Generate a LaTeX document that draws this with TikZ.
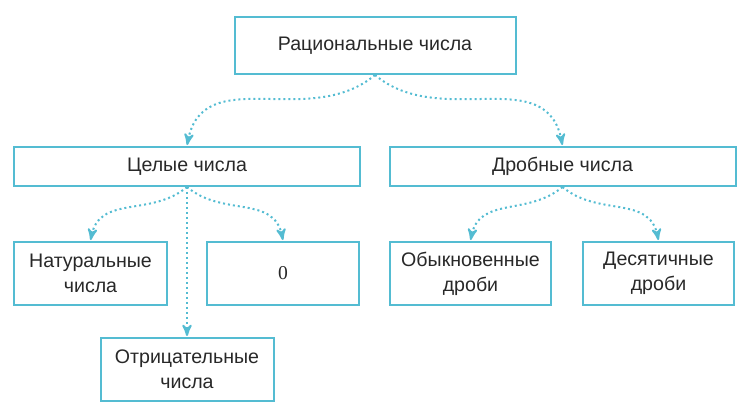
\documentclass[tikz,border=0pt]{standalone}
\usepackage{fontspec}
\setmainfont{Liberation Sans}
\newfontfamily\zerofont{Liberation Serif}
\usetikzlibrary{arrows,positioning}
\definecolor{linecol}{RGB}{84,188,210}
\definecolor{textcol}{RGB}{40,40,40}
\tikzset{
    %Define standard arrow tip
    >=stealth',
    %Define style for boxes
    numrect/.style={
           rectangle,
           draw=linecol, line width=1pt,
           inner sep=0pt,
           minimum height=31.5pt,
           font=\fontsize{9.8}{12.5}\selectfont,
           text=textcol,
           align=center},
    toprect/.style={
           numrect,
           minimum width=140.5pt,
           minimum height=28.5pt},
    midrect/.style={
           numrect,
           minimum width=173pt,
           minimum height=19.5pt},
    % Define arrow style
    dotpil/.style={
           ->,
           draw=linecol,
           line width=1pt,
           dash pattern=on 1pt off 1.5pt,
           shorten >=0.5pt}
}
\begin{document}
\begin{tikzpicture}
\useasboundingbox (0,0) rectangle (375pt,-205pt);

 %nodes
\node[toprect](rat) at (187.5pt,-22.75pt){Рациональные числа};
\node[midrect, below=35.5pt of rat, xshift=-94pt](cel){Целые числа};
\node[midrect, below=35.5pt of rat, xshift=93.75pt](drob){Дробные числа};
\node[numrect, minimum width=76.5pt, below=27pt of cel, xshift=-48.25pt](nat){Натуральные\\числа};
\node[numrect, minimum width=76pt, below=27pt of cel, xshift=48pt](nol){\zerofont 0};
\node[numrect, minimum width=86.5pt, below=75pt of cel](otr){Отрицательные\\числа};
\node[numrect, minimum width=80.5pt, below=27pt of drob, xshift=-46pt](obyk){Обыкновенные\\дроби};
\node[numrect, minimum width=75.5pt, below=27pt of drob, xshift=48pt](des){Десятичные\\дроби};

 %arrows
\draw[dotpil] (rat.south) to[out=-140,in=80,looseness=1.1] (cel.north);
\draw[dotpil] (rat.south) to[out=-40,in=100,looseness=1.1] (drob.north);
\draw[dotpil] (cel.south) to[out=-140,in=80,looseness=1.1] (nat.north);
\draw[dotpil] (cel.south) to[out=-40,in=100,looseness=1.1] (nol.north);
\draw[dotpil] (cel.south) -- (otr.north);
\draw[dotpil] (drob.south) to[out=-140,in=80,looseness=1.1] (obyk.north);
\draw[dotpil] (drob.south) to[out=-40,in=100,looseness=1.1] (des.north);
\end{tikzpicture}
\end{document}
